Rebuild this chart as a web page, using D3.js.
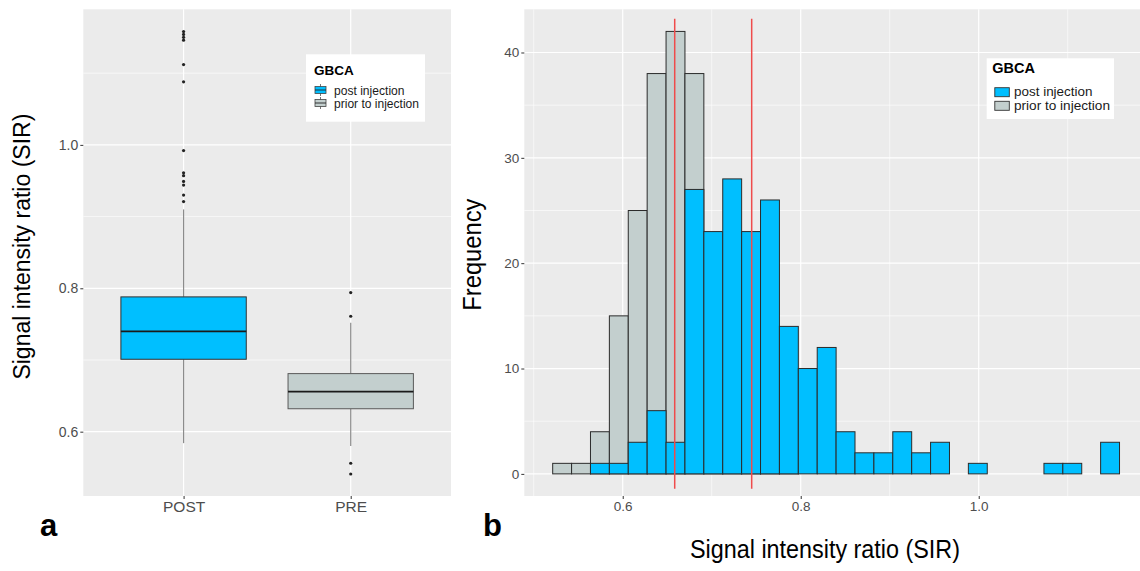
<!DOCTYPE html>
<html>
<head>
<meta charset="utf-8">
<script src="https://cdn.jsdelivr.net/npm/d3@7"></script>
<style>
  body { margin: 0; background: #fff; }
  svg { display: block; font-family: "Liberation Sans", Arial, sans-serif; }
</style>
</head>
<body>
<svg id="chart" width="1140" height="571"></svg>
<script>
// ---- data: panel a (boxplots) ----
var groups = ["POST", "PRE"];
var groupLabels = ["post injection", "prior to injection"];
// lower whisker, Q1, median, Q3, upper whisker
var postBox = [0.584, 0.701, 0.740, 0.788, 0.910];
var preBox = [0.580, 0.632, 0.656, 0.681, 0.752];
var postOutliers = [1.158, 1.154, 1.150, 1.146, 1.112, 1.088, 0.992, 0.961, 0.957, 0.949, 0.944, 0.930, 0.921];
var preOutliers = [0.794, 0.761, 0.556, 0.541];
var boxTicks = [0.6, 0.8, 1.0];

// ---- data: panel b (histogram, 30 bins) ----
var binStart = 0.5213;
var binWidth = 0.02123;
var preCounts = [1, 1, 4, 15, 25, 38, 42, 38, 9, 3, 1, 1, 1, 0, 0, 0, 0, 0, 0, 0, 0, 0, 0, 0, 0, 0, 0, 0, 0, 0];
var postCounts = [0, 0, 1, 1, 3, 6, 3, 27, 23, 28, 23, 26, 14, 10, 12, 4, 2, 2, 4, 2, 3, 0, 1, 0, 0, 0, 1, 1, 0, 3];
var meanLines = [0.6584, 0.7449];
var meanSpan = [-1.4, 43.2];
var histXTicks = [0.6, 0.8, 1.0];
var histYTicks = [0, 10, 20, 30, 40];

var colors = { post: "#00bfff", pre: "#c3cfce" };

var svg = d3.select("#chart");

// ================= panel a =================
var a = { left: 83.3, right: 451, top: 9.3, bottom: 496 };

var xA = d3.scalePoint().domain(groups).range([a.left, a.right]).padding(0.6);
var yA = d3.scaleLinear().domain([0.5103, 1.1891]).range([a.bottom, a.top]);

var gA = svg.append("g");
gA.append("rect")
  .attr("x", a.left).attr("y", a.top)
  .attr("width", a.right - a.left).attr("height", a.bottom - a.top)
  .attr("fill", "#ebebeb");

// minor grid
[0.7, 0.9, 1.1].forEach(function(v) {
  gA.append("line").attr("x1", a.left).attr("x2", a.right)
    .attr("y1", yA(v)).attr("y2", yA(v))
    .attr("stroke", "#fff").attr("stroke-width", 0.6);
});
// major grid
boxTicks.forEach(function(v) {
  gA.append("line").attr("x1", a.left).attr("x2", a.right)
    .attr("y1", yA(v)).attr("y2", yA(v))
    .attr("stroke", "#fff").attr("stroke-width", 1.2);
});
groups.forEach(function(g) {
  gA.append("line").attr("x1", xA(g)).attr("x2", xA(g))
    .attr("y1", a.top).attr("y2", a.bottom)
    .attr("stroke", "#fff").attr("stroke-width", 1.2);
});

var boxW = xA.step() * 0.75;
var boxes = [
  { g: "POST", s: postBox, out: postOutliers, fill: colors.post, line: "#333" },
  { g: "PRE", s: preBox, out: preOutliers, fill: colors.pre, line: "#5a5a5a" }
];
boxes.forEach(function(b) {
  var cx = xA(b.g);
  // whiskers
  gA.append("line").attr("x1", cx).attr("x2", cx)
    .attr("y1", yA(b.s[3])).attr("y2", yA(b.s[4]))
    .attr("stroke", "#8c8c8c").attr("stroke-width", 1.2);
  gA.append("line").attr("x1", cx).attr("x2", cx)
    .attr("y1", yA(b.s[1])).attr("y2", yA(b.s[0]))
    .attr("stroke", "#8c8c8c").attr("stroke-width", 1.2);
  gA.append("rect")
    .attr("x", cx - boxW / 2).attr("y", yA(b.s[3]))
    .attr("width", boxW).attr("height", yA(b.s[1]) - yA(b.s[3]))
    .attr("fill", b.fill).attr("stroke", b.line).attr("stroke-width", 1);
  gA.append("line").attr("x1", cx - boxW / 2).attr("x2", cx + boxW / 2)
    .attr("y1", yA(b.s[2])).attr("y2", yA(b.s[2]))
    .attr("stroke", "#1a1a1a").attr("stroke-width", 1.8);
  gA.selectAll(null).data(b.out).enter().append("circle")
    .attr("cx", cx).attr("cy", function(d) { return yA(d); })
    .attr("r", 1.6).attr("fill", "#222");
});

// axes a
var yAxisA = gA.append("g")
  .attr("transform", "translate(" + a.left + ",0)")
  .call(d3.axisLeft(yA).tickValues(boxTicks).tickFormat(d3.format(".1f")).tickSize(3).tickPadding(2));
var xAxisA = gA.append("g")
  .attr("transform", "translate(0," + a.bottom + ")")
  .call(d3.axisBottom(xA).tickSize(3).tickPadding(2));
[yAxisA, xAxisA].forEach(function(ax) {
  ax.select(".domain").remove();
  ax.selectAll(".tick line").attr("stroke", "#333");
  ax.selectAll(".tick text").attr("fill", "#4d4d4d").attr("font-family", "Liberation Sans, Arial, sans-serif");
});
yAxisA.selectAll(".tick text").attr("font-size", 14);
xAxisA.selectAll(".tick text").attr("font-size", 15.5).attr("dy", "0.71em");

gA.append("text")
  .attr("transform", "translate(29.5," + ((a.top + a.bottom) / 2 - 6) + ") rotate(-90)")
  .attr("text-anchor", "middle").attr("font-size", 23).attr("fill", "#000")
  .text("Signal intensity ratio (SIR)");

gA.append("text").attr("x", 40).attr("y", 536)
  .attr("font-size", 31).attr("font-weight", "bold").text("a");

// legend a
var legA = gA.append("g");
legA.append("rect").attr("x", 306).attr("y", 54.3).attr("width", 119).attr("height", 67.4).attr("fill", "#fff");
legA.append("text").attr("x", 314).attr("y", 74.5).attr("font-size", 13.5).attr("font-weight", "bold").text("GBCA");
[colors.post, colors.pre].forEach(function(c, i) {
  var ky = 90 + i * 13;
  legA.append("line").attr("x1", 320.5).attr("x2", 320.5).attr("y1", ky - 6).attr("y2", ky + 6)
    .attr("stroke", "#777").attr("stroke-width", 1);
  legA.append("rect").attr("x", 315).attr("y", ky - 3.5).attr("width", 11).attr("height", 7)
    .attr("fill", c).attr("stroke", "#444").attr("stroke-width", 0.8);
  legA.append("line").attr("x1", 315).attr("x2", 326).attr("y1", ky).attr("y2", ky)
    .attr("stroke", "#222").attr("stroke-width", 0.9);
  legA.append("text").attr("x", 334).attr("y", ky + 4.5).attr("font-size", 12.5)
    .attr("textLength", i === 0 ? 70.5 : 85).attr("lengthAdjust", "spacingAndGlyphs")
    .attr("fill", "#1a1a1a").text(groupLabels[i]);
});

// ================= panel b =================
var b = { left: 524.3, right: 1148, top: 9.3, bottom: 496 };
var xB = d3.scaleLinear().domain([0.4894, 1.1902]).range([b.left, b.right]);
var yB = d3.scaleLinear().domain([-2.1, 44.1]).range([b.bottom, b.top]);

var gB = svg.append("g");
gB.append("rect")
  .attr("x", b.left).attr("y", b.top)
  .attr("width", b.right - b.left).attr("height", b.bottom - b.top)
  .attr("fill", "#ebebeb");

[0.5, 0.7, 0.9, 1.1].forEach(function(v) {
  gB.append("line").attr("x1", xB(v)).attr("x2", xB(v)).attr("y1", b.top).attr("y2", b.bottom)
    .attr("stroke", "#fff").attr("stroke-width", 0.6);
});
[5, 15, 25, 35].forEach(function(v) {
  gB.append("line").attr("x1", b.left).attr("x2", b.right).attr("y1", yB(v)).attr("y2", yB(v))
    .attr("stroke", "#fff").attr("stroke-width", 0.6);
});
histXTicks.forEach(function(v) {
  gB.append("line").attr("x1", xB(v)).attr("x2", xB(v)).attr("y1", b.top).attr("y2", b.bottom)
    .attr("stroke", "#fff").attr("stroke-width", 1.2);
});
histYTicks.forEach(function(v) {
  gB.append("line").attr("x1", b.left).attr("x2", b.right).attr("y1", yB(v)).attr("y2", yB(v))
    .attr("stroke", "#fff").attr("stroke-width", 1.2);
});

function drawBars(counts, fill) {
  gB.append("g").selectAll("rect").data(counts).enter().append("rect")
    .attr("x", function(d, i) { return xB(binStart + i * binWidth); })
    .attr("width", function(d, i) { return xB(binStart + (i + 1) * binWidth) - xB(binStart + i * binWidth); })
    .attr("y", function(d) { return yB(d); })
    .attr("height", function(d) { return yB(0) - yB(d); })
    .attr("fill", fill).attr("stroke", "#2b2b2b").attr("stroke-width", 1);
}
drawBars(preCounts, colors.pre);
drawBars(postCounts, colors.post);

meanLines.forEach(function(m) {
  gB.append("line").attr("x1", xB(m)).attr("x2", xB(m))
    .attr("y1", yB(meanSpan[0])).attr("y2", yB(meanSpan[1]))
    .attr("stroke", "#ef4b4b").attr("stroke-width", 1.5);
});

var yAxisB = gB.append("g")
  .attr("transform", "translate(" + b.left + ",0)")
  .call(d3.axisLeft(yB).tickValues(histYTicks).tickSize(3).tickPadding(2));
var xAxisB = gB.append("g")
  .attr("transform", "translate(0," + b.bottom + ")")
  .call(d3.axisBottom(xB).tickValues(histXTicks).tickFormat(d3.format(".1f")).tickSize(3).tickPadding(2));
[yAxisB, xAxisB].forEach(function(ax) {
  ax.select(".domain").remove();
  ax.selectAll(".tick line").attr("stroke", "#333");
  ax.selectAll(".tick text").attr("fill", "#4d4d4d").attr("font-family", "Liberation Sans, Arial, sans-serif").attr("font-size", 13.5);
});
xAxisB.selectAll(".tick text").attr("dy", "0.71em");

gB.append("text")
  .attr("transform", "translate(481," + ((b.top + b.bottom) / 2 + 2) + ") rotate(-90)")
  .attr("text-anchor", "middle").attr("font-size", 25)
  .attr("textLength", 112).attr("lengthAdjust", "spacingAndGlyphs")
  .text("Frequency");

gB.append("text")
  .attr("x", 825).attr("y", 558)
  .attr("text-anchor", "middle").attr("font-size", 25)
  .attr("textLength", 270).attr("lengthAdjust", "spacingAndGlyphs")
  .text("Signal intensity ratio (SIR)");

gB.append("text").attr("x", 483).attr("y", 536)
  .attr("font-size", 31).attr("font-weight", "bold").text("b");

// legend b
var legB = gB.append("g");
legB.append("rect").attr("x", 986.7).attr("y", 58.3).attr("width", 127.3).attr("height", 60.7).attr("fill", "#fff");
legB.append("text").attr("x", 992.3).attr("y", 73.3).attr("font-size", 14.5).attr("font-weight", "bold").text("GBCA");
[colors.post, colors.pre].forEach(function(c, i) {
  var ky = 87.7 + i * 13.6;
  legB.append("rect").attr("x", 994.8).attr("y", ky).attr("width", 14.5).attr("height", 9)
    .attr("fill", c).attr("stroke", "#333").attr("stroke-width", 0.9);
  legB.append("text").attr("x", 1014).attr("y", ky + 8.5).attr("font-size", 13)
    .attr("textLength", i === 0 ? 78.5 : 96).attr("lengthAdjust", "spacingAndGlyphs")
    .attr("fill", "#1a1a1a").text(groupLabels[i]);
});
</script>
</body>
</html>
